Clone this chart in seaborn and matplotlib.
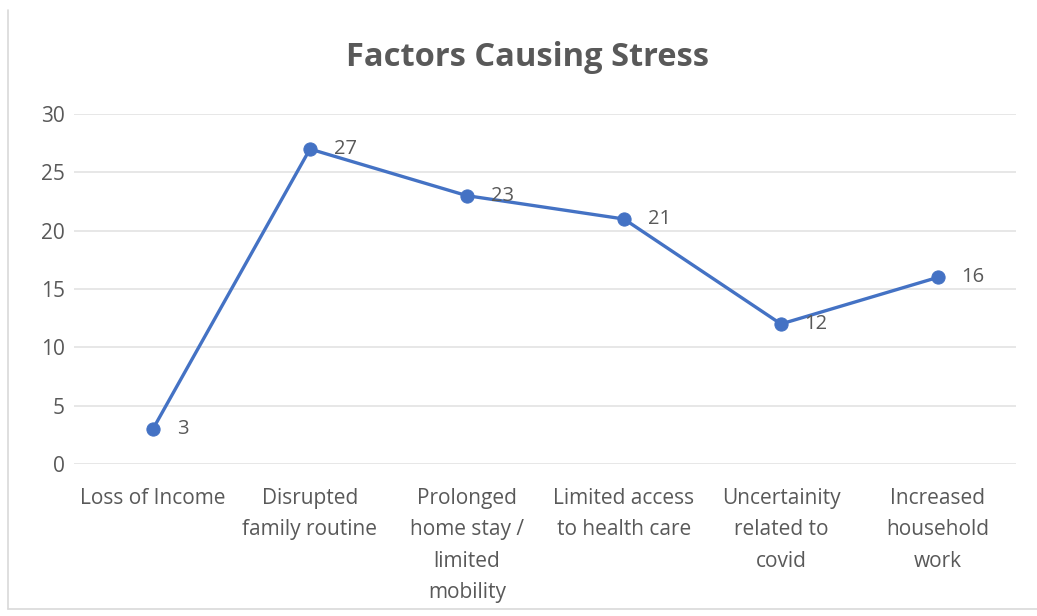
import matplotlib
matplotlib.use("Agg")
import matplotlib.pyplot as plt
from matplotlib.lines import Line2D
import seaborn as sns
import pandas as pd

# Data
factors = [
    "Loss of Income",
    "Disrupted\nfamily routine",
    "Prolonged\nhome stay /\nlimited\nmobility",
    "Limited access\nto health care",
    "Uncertainity\nrelated to\ncovid",
    "Increased\nhousehold\nwork",
]
counts = [3, 27, 23, 21, 12, 16]
y_ticks = [0, 5, 10, 15, 20, 25, 30]

df = pd.DataFrame({"factor": factors, "count": counts})

sns.set_theme(style="white")
plt.rcParams["font.family"] = ["Open Sans", "DejaVu Sans"]

line_color = "#4472C4"
text_color = "#595959"

fig = plt.figure(figsize=(10.37, 6.16), dpi=100)
ax = fig.add_axes([0.0718, 0.2468, 0.9084, 0.5681])

sns.lineplot(data=df, x="factor", y="count", sort=False, ax=ax,
             color=line_color, linewidth=2.4, marker="o", markersize=9.5,
             markeredgecolor=line_color, zorder=3)

# data labels to the right of each point
for i, v in enumerate(counts):
    ax.annotate(str(v), (i, v), xytext=(17, 0), textcoords="offset points",
                va="center", ha="left", fontsize=14.5, color=text_color)

ax.set_xlim(-0.5, len(factors) - 0.5)
ax.set_ylim(0, 30)
ax.set_yticks(y_ticks)
ax.yaxis.grid(True, color="#e3e3e3", linewidth=1.2)
ax.set_axisbelow(True)
for s in ax.spines.values():
    s.set_visible(False)
ax.tick_params(axis="both", length=0, colors=text_color, labelsize=15)
ax.tick_params(axis="x", pad=17)
ax.tick_params(axis="y", pad=7)
for lbl in ax.get_xticklabels():
    lbl.set_linespacing(1.66)
    lbl.set_verticalalignment("top")
ax.set_xlabel("")
ax.set_ylabel("")

fig.text(0.509, 0.907, "Factors Causing Stress", ha="center", va="center",
         fontsize=23.5, fontweight="bold", color=text_color)

# chart frame (left and bottom edges visible in the source)
W, H = 1037, 616
fig.lines.append(Line2D([8 / W, 8 / W], [1 - 10 / H, 1 - 609 / H],
                        transform=fig.transFigure, color="#d9d9d9", linewidth=1.2))
fig.lines.append(Line2D([8 / W, 1.0], [1 - 609 / H, 1 - 609 / H],
                        transform=fig.transFigure, color="#d9d9d9", linewidth=1.2))

fig.savefig("out.png", dpi=100, facecolor="white")
